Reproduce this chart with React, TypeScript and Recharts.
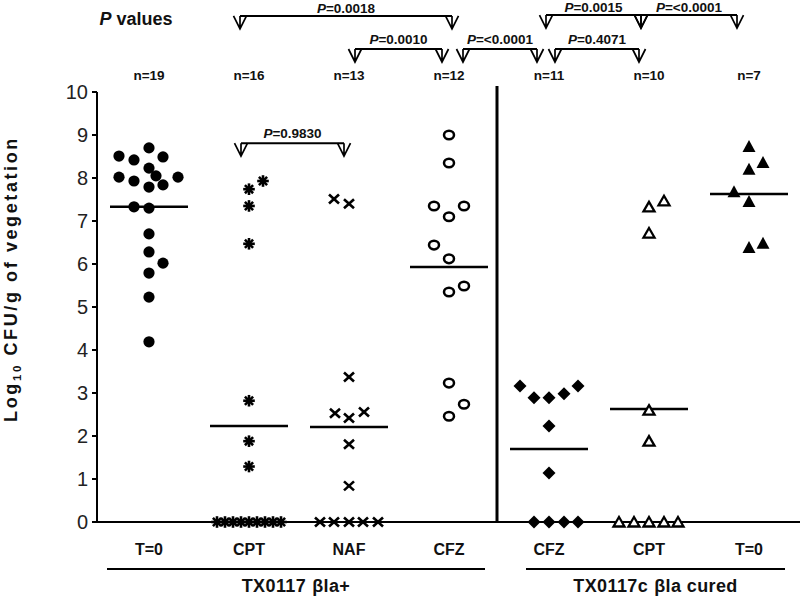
import React from 'react'
import { ScatterChart, Scatter, XAxis, YAxis, ReferenceLine } from 'recharts'

// group order on the x axis (1..7)
const groupNames = ['T=0', 'CPT', 'NAF', 'CFZ', 'CFZ', 'CPT', 'T=0']
const groupCounts = [19, 16, 13, 12, 11, 10, 7]
const medians = [7.33, 2.23, 2.21, 5.93, 1.7, 2.63, 7.63]
const yTicks = [0, 1, 2, 3, 4, 5, 6, 7, 8, 9, 10]

// log10 CFU/g values and horizontal spread (in group widths) of each dot
const t0Values = [8.51, 8.42, 8.7, 8.49, 8.23, 8.02, 7.93, 8.05, 8.02, 7.79, 7.84, 7.33, 7.3, 6.7, 6.28, 6.02, 5.79, 5.23, 4.19]
const t0Spread = [-0.3, -0.15, 0, 0.14, 0, -0.3, -0.15, 0.07, 0.29, 0, 0.14, -0.15, 0, 0, 0, 0.14, 0, 0, 0]

const cptValues = [7.93, 7.74, 7.35, 6.47, 2.82, 1.88, 1.29, 0, 0, 0, 0, 0, 0, 0, 0, 0]
const cptSpread = [0.14, 0, 0, 0, 0, 0, 0, -0.32, -0.24, -0.16, -0.08, 0, 0.08, 0.16, 0.24, 0.32]

const nafValues = [7.51, 7.4, 3.37, 2.53, 2.42, 2.56, 1.81, 0.84, 0, 0, 0, 0, 0]
const nafSpread = [-0.15, 0, 0, -0.14, 0, 0.15, 0, 0, -0.29, -0.15, 0, 0.14, 0.29]

const cfzValues = [9.0, 8.35, 7.35, 7.35, 7.1, 6.44, 6.12, 5.35, 5.49, 3.23, 2.46, 2.74]
const cfzSpread = [0, 0, -0.15, 0.15, 0, -0.15, 0, 0, 0.15, 0, 0, 0.15]

const curedCfzValues = [3.16, 2.89, 2.89, 2.98, 3.16, 2.23, 1.14, 0, 0, 0, 0]
const curedCfzSpread = [-0.29, -0.15, 0, 0.15, 0.29, 0, 0, -0.15, 0, 0.15, 0.29]

const curedCptValues = [7.33, 7.47, 6.72, 2.6, 1.88, 0, 0, 0, 0, 0]
const curedCptSpread = [0, 0.15, 0, 0, 0, -0.3, -0.15, 0, 0.15, 0.29]

const curedT0Values = [8.72, 8.35, 8.19, 7.67, 7.44, 6.37, 6.47]
const curedT0Spread = [0, 0.14, 0, -0.15, 0, 0, 0.14]

// comparisons: [from x, to x, level y, label]
const brackets: [number, number, number, string][] = [
  [1.91, 4.03, 11.77, 'P=0.0018'],
  [3.06, 3.93, 11.0, 'P=0.0010'],
  [4.14, 4.88, 11.0, 'P=<0.0001'],
  [5.06, 5.9, 11.0, 'P=0.4071'],
  [4.97, 5.92, 11.79, 'P=0.0015'],
  [5.92, 6.88, 11.79, 'P=<0.0001'],
  [1.92, 2.95, 8.81, 'P=0.9830'],
]

const strains = [
  { name: ['TX0117', 'βla+'], from: 0.58, to: 4.36 },
  { name: ['TX0117c', 'βla cured'], from: 4.77, to: 7.36 },
]

const W = 800
const H = 598
const LEFT = 97
const TOP = 92
const BOTTOM = 76
const X_DOMAIN = [0.48, 7.51]
const FONT = '"Liberation Sans", Arial, Helvetica, sans-serif'

const px = (x: number) => LEFT + ((x - X_DOMAIN[0]) / (X_DOMAIN[1] - X_DOMAIN[0])) * (W - LEFT)
const py = (y: number) => H - BOTTOM - (y / 10) * (H - BOTTOM - TOP)

const toPoints = (group: number, values: number[], spread: number[]) =>
  values.map((y, i) => ({ x: group + spread[i], y }))

const FilledCircle = ({ cx, cy }: any) => <circle cx={cx} cy={cy} r={5.6} fill="#000" />
const OpenCircle = ({ cx, cy }: any) => (
  <ellipse cx={cx} cy={cy} rx={5} ry={4.3} fill="#fff" stroke="#000" strokeWidth={2.5} />
)
const Asterisk = ({ cx, cy }: any) => {
  const r = 5.8
  const d = r * 0.707
  return (
    <g stroke="#000" strokeWidth={2.6}>
      <line x1={cx - r} y1={cy} x2={cx + r} y2={cy} />
      <line x1={cx} y1={cy - r} x2={cx} y2={cy + r} />
      <line x1={cx - d} y1={cy - d} x2={cx + d} y2={cy + d} />
      <line x1={cx - d} y1={cy + d} x2={cx + d} y2={cy - d} />
    </g>
  )
}
const Cross = ({ cx, cy }: any) => (
  <g stroke="#000" strokeWidth={2.6}>
    <line x1={cx - 5} y1={cy - 4.5} x2={cx + 5} y2={cy + 4.5} />
    <line x1={cx - 5} y1={cy + 4.5} x2={cx + 5} y2={cy - 4.5} />
  </g>
)
const Diamond = ({ cx, cy }: any) => (
  <polygon points={`${cx},${cy - 6.5} ${cx + 6.5},${cy} ${cx},${cy + 6.5} ${cx - 6.5},${cy}`} fill="#000" />
)
const OpenTriangle = ({ cx, cy }: any) => (
  <polygon
    points={`${cx},${cy - 5} ${cx + 5.5},${cy + 4.5} ${cx - 5.5},${cy + 4.5}`}
    fill="#fff"
    stroke="#000"
    strokeWidth={2.3}
  />
)
const FilledTriangle = ({ cx, cy }: any) => (
  <polygon points={`${cx},${cy - 7} ${cx + 6.5},${cy + 5} ${cx - 6.5},${cy + 5}`} fill="#000" />
)

const GroupTick = ({ x, y, payload }: any) => (
  <text x={x} y={y + 33} textAnchor="middle" fontSize={16} fontWeight="bold" fill="#111" fontFamily={FONT}>
    {groupNames[payload.value - 1]}
  </text>
)

const PLabel = ({ x, y, text }: { x: number; y: number; text: string }) => (
  <text x={x} y={y} textAnchor="middle" fontSize={13.5} fontWeight="bold" fill="#111" fontFamily={FONT}>
    <tspan fontStyle="italic">P</tspan>
    {text.slice(1)}
  </text>
)

const Arrow = ({ x, y }: { x: number; y: number }) => (
  <path
    d={`M${x - 6.5},${y} L${x},${y + 13} L${x + 6.5},${y} M${x},${y} L${x},${y + 13}`}
    fill="none"
    stroke="#000"
    strokeWidth={1.7}
  />
)

function Annotations() {
  return (
    <g>
      <text x={136} y={25} textAnchor="middle" fontSize={18} fontWeight="bold" fill="#111" fontFamily={FONT}>
        <tspan fontStyle="italic">P</tspan> values
      </text>
      {groupCounts.map((n, i) => (
        <text key={i} x={px(i + 1)} y={80} textAnchor="middle" fontSize={13.5} fontWeight="bold" fill="#111" fontFamily={FONT}>
          n={n}
        </text>
      ))}
      {brackets.map(([a, b, lvl, label], i) => {
        const x1 = px(a)
        const x2 = px(b)
        const y = py(lvl)
        return (
          <g key={i}>
            <line x1={x1} y1={y} x2={x2} y2={y} stroke="#000" strokeWidth={2} />
            <Arrow x={x1} y={y} />
            <Arrow x={x2} y={y} />
            <PLabel x={(x1 + x2) / 2} y={y - (lvl > 11.5 ? 3.2 : 5)} text={label} />
          </g>
        )
      })}
      {strains.map((s) => (
        <g key={s.name[0]}>
          <line x1={px(s.from)} y1={569} x2={px(s.to)} y2={569} stroke="#000" strokeWidth={2} />
          <text x={(px(s.from) + px(s.to)) / 2} y={592} textAnchor="middle" fontSize={18} fontWeight="bold" fill="#111" fontFamily={FONT} letterSpacing={0.4}>
            {s.name[0]}
            <tspan dx={6}>{s.name[1]}</tspan>
          </text>
        </g>
      ))}
      <text
        x={17}
        y={279}
        transform="rotate(-90, 17, 279)"
        textAnchor="middle"
        fontSize={18}
        fontWeight="bold"
        fill="#111"
        fontFamily={FONT}
        letterSpacing={2.6}
      >
        Log
        <tspan fontSize={11.5} dy={4}>10</tspan>
        <tspan dy={-4}> CFU/g of vegetation</tspan>
      </text>
    </g>
  )
}

const series = [
  { name: 'T=0', data: toPoints(1, t0Values, t0Spread), shape: FilledCircle },
  { name: 'CPT', data: toPoints(2, cptValues, cptSpread), shape: Asterisk },
  { name: 'NAF', data: toPoints(3, nafValues, nafSpread), shape: Cross },
  { name: 'CFZ', data: toPoints(4, cfzValues, cfzSpread), shape: OpenCircle },
  { name: 'CFZ cured', data: toPoints(5, curedCfzValues, curedCfzSpread), shape: Diamond },
  { name: 'CPT cured', data: toPoints(6, curedCptValues, curedCptSpread), shape: OpenTriangle },
  { name: 'T=0 cured', data: toPoints(7, curedT0Values, curedT0Spread), shape: FilledTriangle },
]

export default function App() {
  return (
    <div style={{ position: 'absolute', left: 0, top: 0, width: W, height: H, background: '#fff' }}>
      <ScatterChart width={W} height={H} margin={{ top: TOP, right: 0, bottom: 0, left: 0 }}>
        <XAxis
          type="number"
          dataKey="x"
          domain={X_DOMAIN}
          ticks={[1, 2, 3, 4, 5, 6, 7]}
          height={BOTTOM}
          axisLine={{ stroke: '#000', strokeWidth: 2 }}
          tickLine={false}
          tickSize={0}
          tickMargin={0}
          tick={<GroupTick />}
        />
        <YAxis
          type="number"
          dataKey="y"
          domain={[0, 10]}
          ticks={yTicks}
          width={LEFT}
          axisLine={{ stroke: '#000', strokeWidth: 2 }}
          tickLine={{ stroke: '#000', strokeWidth: 2 }}
          tickSize={5}
          tickMargin={4}
          tick={{ fontSize: 20, fill: '#222', fontFamily: FONT }}
        />
        <ReferenceLine
          segment={[{ x: 4.48, y: 0 }, { x: 4.48, y: 10.14 }]}
          stroke="#000"
          strokeWidth={3}
          ifOverflow="visible"
        />
        {medians.map((m, i) => (
          <ReferenceLine
            key={i}
            segment={[{ x: i + 1 - 0.39, y: m }, { x: i + 1 + 0.39, y: m }]}
            stroke="#000"
            strokeWidth={2.5}
          />
        ))}
        {series.map((s) => (
          <Scatter key={s.name} name={s.name} data={s.data} shape={s.shape} isAnimationActive={false} />
        ))}
        <Annotations />
      </ScatterChart>
    </div>
  )
}
